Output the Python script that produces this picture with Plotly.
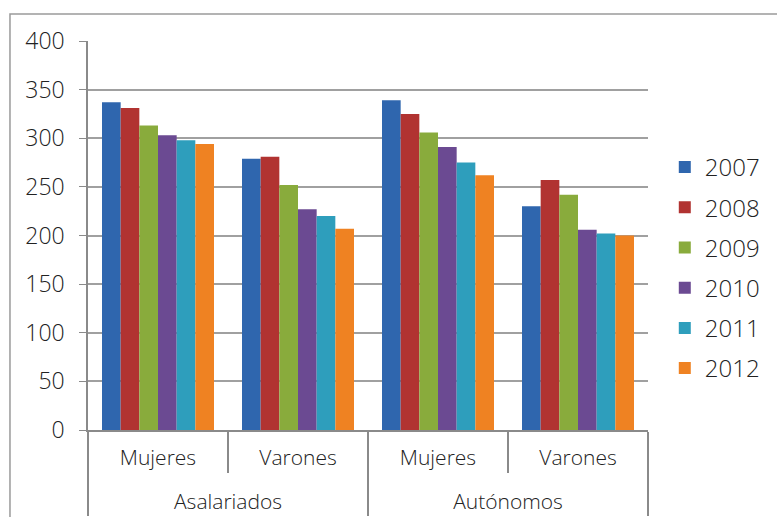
import plotly.graph_objects as go

outer = ["Asalariados", "Asalariados", "Autónomos", "Autónomos"]
inner = ["Mujeres", "Varones", "Mujeres", "Varones"]
years = ["2007", "2008", "2009", "2010", "2011", "2012"]
v2007 = [337, 279, 339, 230]
v2008 = [331, 281, 325, 257]
v2009 = [313, 252, 306, 242]
v2010 = [303, 227, 291, 206]
v2011 = [298, 220, 275, 202]
v2012 = [294, 207, 262, 200]
series = [v2007, v2008, v2009, v2010, v2011, v2012]
colors = ["#2F66AE", "#B13331", "#89AB3C", "#6B4A92", "#2E9EBC", "#EF8222"]

FONT = "Open Sans, DejaVu Sans, sans-serif"
LBL = "<span style='font-size:21px'>{}</span>"

# a short leading line break drops the outer-level labels onto a lower row
outer_lbl = ["<br>" + LBL.format(o) for o in outer]
inner_lbl = [LBL.format(i) for i in inner]

fig = go.Figure()
for y, vals, c in zip(years, series, colors):
    fig.add_trace(go.Bar(x=[outer_lbl, inner_lbl], y=vals, name=y, legendgroup=y,
                         marker=dict(color=c, line=dict(width=0))))

W, H = 777, 517
L, R, T, B = 88, 655, 41, 430
fig.update_layout(
    width=W, height=H,
    margin=dict(l=L, r=W - R, t=T, b=H - B, pad=0),
    paper_bgcolor="white", plot_bgcolor="white",
    barmode="group", bargap=0.2, bargroupgap=0,
    font=dict(family=FONT, size=21, color="#222222", weight=300),
    legend=dict(x=(672 - L) / (R - L), xanchor="left", xref="paper",
                y=(B - 268) / (B - T), yanchor="middle",
                font=dict(family=FONT, size=24, color="#222222", weight=300),
                tracegroupgap=6, itemwidth=30, bgcolor="rgba(0,0,0,0)"),
    showlegend=True,
)
fig.update_yaxes(range=[0, 400], dtick=50, showgrid=True, gridcolor="#a0a0a0",
                 gridwidth=1.5, showline=True, linecolor="#8a8a8a", linewidth=1.5,
                 ticks="outside", ticklen=7, tickcolor="#8a8a8a", zeroline=False,
                 tickfont=dict(size=23), ticklabelstandoff=10, fixedrange=True)
fig.update_xaxes(type="multicategory", showline=True, linecolor="#8a8a8a",
                 linewidth=1.5, showdividers=True, dividercolor="#8a8a8a",
                 dividerwidth=1.5, tickson="boundaries", ticks="outside",
                 ticklen=41, tickcolor="#8a8a8a", tickwidth=1.5, automargin=False,
                 tickfont=dict(size=19), ticklabelstandoff=10)

# outer chart border
fig.add_shape(type="rect", xref="paper", yref="paper",
              x0=(9 - L) / (R - L), x1=(W + 20 - L) / (R - L),
              y0=(B - H - 20) / (B - T), y1=(B - 14) / (B - T),
              line=dict(color="#9a9a9a", width=1.5), layer="below")

fig.write_html("out.html")
